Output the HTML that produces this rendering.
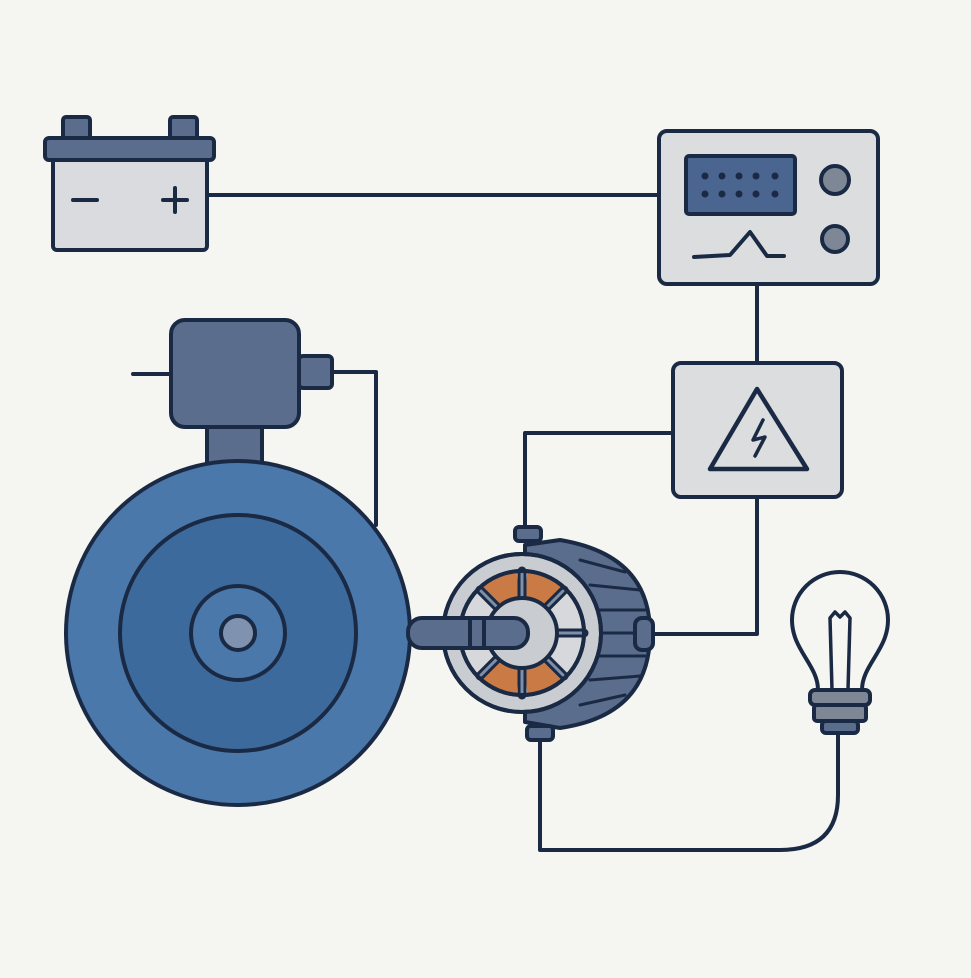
<!DOCTYPE html>
<html><head><meta charset="utf-8"><style>html,body{margin:0;padding:0;background:#f5f5f2}svg{display:block}</style></head>
<body>
<svg width="971" height="978" viewBox="0 0 971 978" xmlns="http://www.w3.org/2000/svg" stroke="#1b2a44" stroke-width="4" stroke-linejoin="round" stroke-linecap="round">
<rect x="0" y="0" width="971" height="978" fill="#f5f5f2" stroke="none"/>
<g fill="none">
<line x1="207" y1="195" x2="660" y2="195"/>
<line x1="757" y1="284" x2="757" y2="363"/>
<polyline points="673,433 525,433 525,530"/>
<polyline points="757,497 757,634 650,634"/>
<polyline points="332,372 376,372 376,525"/>
<line x1="133" y1="374" x2="171" y2="374"/>
<path d="M540,735 L540,850 L780,850 Q838,850 838,795 L838,735"/>
</g>
<rect x="63" y="117" width="27" height="24" rx="3" fill="#5a6d8c"/>
<rect x="170" y="117" width="27" height="24" rx="3" fill="#5a6d8c"/>
<rect x="53" y="155" width="154" height="95" rx="4" fill="#d9dbde"/>
<rect x="45" y="138" width="169" height="22" rx="4" fill="#5a6d8c"/>
<line x1="73" y1="200" x2="97" y2="200"/>
<line x1="163" y1="200" x2="187" y2="200"/><line x1="175" y1="188" x2="175" y2="212"/>
<rect x="659" y="131" width="219" height="153" rx="8" fill="#dcdddf"/>
<rect x="686" y="156" width="109" height="58" rx="3" fill="#4a6590"/>
<g fill="#1b2a44" stroke="none">
<circle cx="705" cy="176" r="3.5"/><circle cx="722" cy="176" r="3.5"/><circle cx="739" cy="176" r="3.5"/><circle cx="756" cy="176" r="3.5"/><circle cx="775" cy="176" r="3.5"/>
<circle cx="705" cy="194" r="3.5"/><circle cx="722" cy="194" r="3.5"/><circle cx="739" cy="194" r="3.5"/><circle cx="756" cy="194" r="3.5"/><circle cx="775" cy="194" r="3.5"/>
</g>
<circle cx="835" cy="180" r="14" fill="#7e8796"/>
<circle cx="835" cy="239" r="13" fill="#7e8796"/>
<polyline points="694,257 730,255 750,232 767,256 784,256" fill="none"/>
<rect x="673" y="363" width="169" height="134" rx="8" fill="#dcdddf"/>
<path d="M757,389 L710,469 L807,469 Z" fill="none" stroke-width="4.5"/>
<polyline points="763,420 753,440 765,437 755,456" fill="none" stroke-width="3.5"/>
<rect x="207" y="422" width="55" height="42" fill="#5a6d8c"/>
<rect x="299" y="356" width="33" height="32" rx="4" fill="#5a6d8c"/>
<rect x="171" y="320" width="128" height="107" rx="14" fill="#5a6d8c"/>
<circle cx="238" cy="633" r="172" fill="#4a78aa"/>
<circle cx="238" cy="633" r="118" fill="#3d6a9c"/>
<circle cx="238" cy="633" r="47" fill="#4a78aa"/>
<circle cx="238" cy="633" r="17" fill="#7f93b0"/>
<path d="M525,545 L560,540 Q650,555 650,633 Q650,715 560,728 L525,722 Z" fill="#5a6d8c"/>
<g fill="none" stroke-width="3">
<line x1="580" y1="560" x2="625" y2="572"/><line x1="590" y1="585" x2="640" y2="590"/><line x1="595" y1="610" x2="645" y2="610"/>
<line x1="598" y1="633" x2="648" y2="633"/><line x1="595" y1="656" x2="645" y2="656"/><line x1="590" y1="680" x2="640" y2="676"/><line x1="580" y1="705" x2="625" y2="695"/>
</g>
<rect x="635" y="618" width="18" height="32" rx="7" fill="#5a6d8c"/>
<rect x="515" y="527" width="26" height="14" rx="4" fill="#5a6d8c"/>
<rect x="527" y="726" width="26" height="14" rx="4" fill="#5a6d8c"/>
<circle cx="522" cy="633" r="79" fill="#c9ccd1"/>
<circle cx="522" cy="633" r="62" fill="#d6d8dc"/>
<g stroke="none" fill="#c97a45">
<path d="M516.8,573.2 A60,60 0 0 0 483.4,587 L499.5,606.2 A35,35 0 0 1 519,598.1 Z"/>
<path d="M527.2,573.2 A60,60 0 0 1 560.6,587 L544.5,606.2 A35,35 0 0 0 525,598.1 Z"/>
<path d="M516.8,692.8 A60,60 0 0 1 483.4,679 L499.5,659.8 A35,35 0 0 0 519,667.9 Z"/>
<path d="M527.2,692.8 A60,60 0 0 0 560.6,679 L544.5,659.8 A35,35 0 0 1 525,667.9 Z"/>
</g>
<g stroke="#1b2a44" stroke-width="9"><line x1="522" y1="571" x2="522" y2="602"/><line x1="522" y1="664" x2="522" y2="695"/><line x1="480" y1="590" x2="500" y2="610"/><line x1="564" y1="590" x2="544" y2="610"/><line x1="480" y1="676" x2="500" y2="656"/><line x1="564" y1="676" x2="544" y2="656"/><line x1="554" y1="633" x2="584" y2="633"/></g>
<g stroke="#7e8fa8" stroke-width="3"><line x1="522" y1="573" x2="522" y2="600"/><line x1="522" y1="666" x2="522" y2="693"/><line x1="481" y1="591" x2="499" y2="609"/><line x1="563" y1="591" x2="545" y2="609"/><line x1="481" y1="675" x2="499" y2="657"/><line x1="563" y1="675" x2="545" y2="657"/><line x1="556" y1="633" x2="582" y2="633"/></g>
<circle cx="522" cy="633" r="62" fill="none"/>
<circle cx="522" cy="633" r="79" fill="none"/>
<circle cx="522" cy="633" r="35" fill="#c9ccd1"/>
<rect x="408" y="618" width="120" height="30" rx="14" fill="#5a6d8c"/>
<line x1="470" y1="619" x2="470" y2="647"/><line x1="484" y1="619" x2="484" y2="647"/>
<path d="M818,690 C818,665 792,650 792,620 A48,48 0 1 1 888,620 C888,650 862,665 862,690 Z" fill="#f5f5f2"/>
<polyline points="832,690 830,618 835,612 840,617 845,612 850,618 848,690" fill="none" stroke-width="3.5"/>
<rect x="810" y="690" width="60" height="15" rx="5" fill="#7e8796"/>
<rect x="814" y="705" width="52" height="16" rx="3" fill="#7e8796"/>
<rect x="822" y="721" width="36" height="12" rx="4" fill="#5a6d8c"/>
</svg>
</body></html>
